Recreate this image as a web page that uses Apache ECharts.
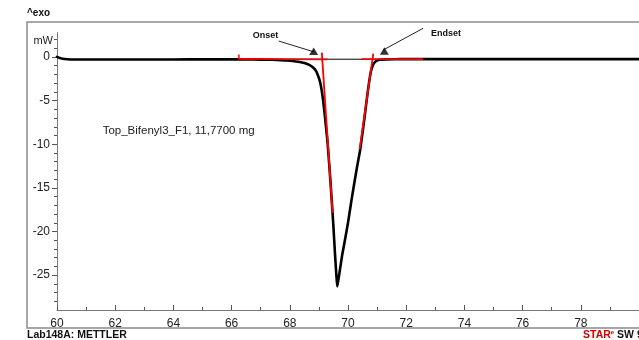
<!DOCTYPE html>
<html><head><meta charset="utf-8">
<script src="https://cdn.jsdelivr.net/npm/echarts@6/dist/echarts.min.js"></script>
<style>html,body{margin:0;padding:0;background:#fff}#c{width:639px;height:340px}</style>
</head><body><div id="c"></div>
<script>
// ---- data ----
const temperature = [60.0,60.05,60.1,60.2,60.35,60.6,61,62,63,64,65,66,66.5,67,67.4,67.7,67.9,68.1,68.3,68.5,68.65,68.8,68.9,69.0,69.05,69.1,69.15,69.2,69.25,69.3,69.35,69.4,69.45,69.5,69.55,69.6,69.63,69.66,69.7,69.8,69.9,70.0,70.13,70.3,70.42,70.55,70.64,70.72,70.79,70.86,70.93,71.0,71.1,71.3,71.6,72,73,74,75,76,77,78,79,80];
const heatFlow = [0.02,-0.05,-0.12,-0.2,-0.25,-0.28,-0.29,-0.29,-0.28,-0.28,-0.27,-0.27,-0.28,-0.3,-0.32,-0.36,-0.4,-0.46,-0.55,-0.68,-0.88,-1.2,-1.6,-2.4,-3.0,-3.9,-5.1,-6.6,-8.2,-9.9,-12.1,-14.4,-16.9,-19.5,-22.4,-25.0,-26.3,-25.7,-24.9,-22.7,-20.9,-19.0,-16.2,-12.8,-10.6,-7.4,-5.0,-3.0,-1.6,-0.9,-0.55,-0.4,-0.32,-0.27,-0.25,-0.24,-0.24,-0.24,-0.24,-0.24,-0.24,-0.24,-0.24,-0.24];
const yMajorTicks = [0,-5,-10,-15,-20,-25];
const yMinorTicks = [2,1,0,-1,-2,-3,-4,-5,-6,-7,-8,-9,-10,-11,-12,-13,-14,-15,-16,-17,-18,-19,-20,-21,-22,-23,-24,-25,-26,-27,-28];
const integrationBaseline = [[66.25,-0.25],[72.58,-0.25]];
const onsetBaseline = [[66.25,-0.22],[69.3,-0.27]];
const onsetTick = [[66.25,-0.25],[66.25,0.3]];
const onsetTangent = [[69.10,0.5],[69.47,-17.9]];
const endsetBaseline = [[70.46,-0.25],[72.58,-0.25]];
const endsetTangent = [[70.87,0.4],[70.40,-10.6]];
const onsetArrow = [[67.62,1.83],[68.85,0.57]];
const endsetArrow = [[72.58,3.29],[71.21,0.80]];
const arrowHeads = [[68.82,0.66],[71.25,0.69]];
const onsetLabelPos = [66.73,2.52];
const endsetLabelPos = [72.85,2.75];
const sampleLabelPos = [61.57,-8.5];
const sampleText = 'Top_Bifenyl3_F1, 11,7700 mg';

const chart = echarts.init(document.getElementById('c'), null, {renderer:'canvas'});
const font = "'Liberation Sans', Arial, sans-serif";
const lineS = (data, color, width, z) => ({type:'line', data, showSymbol:false, symbol:'none', clip:false, silent:true, z:z||3,
  lineStyle:{color, width}, animation:false});

const option = {
  backgroundColor:'#fff',
  animation:false,
  grid:{left:57, top:32.6, width:585, height:277.4},
  xAxis:{type:'value', min:60, max:80, interval:2,
    axisLine:{show:true, onZero:false, lineStyle:{color:'#777', width:1}},
    axisTick:{show:true, inside:true, length:5, lineStyle:{color:'#555'}},
    minorTick:{show:true, splitNumber:2, length:3, lineStyle:{color:'#555'}},
    splitLine:{show:false},
    axisLabel:{margin:8, fontSize:12, color:'#222', fontFamily:font, showMaxLabel:false}},
  yAxis:[{type:'value', min:-29, max:2.8, position:'left',
    axisLine:{show:true, onZero:false, lineStyle:{color:'#777', width:1}},
    axisTick:{show:true, length:5, customValues:yMajorTicks, lineStyle:{color:'#555'}},
    splitLine:{show:false},
    axisLabel:{margin:7, fontSize:12, color:'#222', fontFamily:font, customValues:yMajorTicks}},
   {type:'value', min:-29, max:2.8, position:'left', offset:0,
    axisLine:{show:false, onZero:false},
    axisTick:{show:true, length:3, customValues:yMinorTicks, lineStyle:{color:'#555'}},
    splitLine:{show:false}, axisLabel:{show:false}}],
  series:[
    lineS(integrationBaseline,'#000',1,2),
    Object.assign(lineS(temperature.map((t,i)=>[t,heatFlow[i]]),'#000',2.6,3),{smooth:0.15, lineStyle:{color:'#000',width:2.6,join:'round',cap:'round'}}),
    lineS(onsetBaseline,'#ff0000',1.8,4),
    lineS(onsetTick,'#ff0000',1.5,4),
    lineS(onsetTangent,'#ff0000',1.8,4),
    lineS(endsetBaseline,'#ff0000',1.8,4),
    lineS(endsetTangent,'#ff0000',1.8,4),
    lineS(onsetArrow,'#222',1,5),
    lineS(endsetArrow,'#222',1,5),
    {type:'scatter', data:arrowHeads, symbol:'triangle', symbolSize:[9,7.5], clip:false, silent:true, z:6,
      itemStyle:{color:'#000'}, animation:false}
  ]
};
chart.setOption(option);

const px = p => chart.convertToPixel({gridIndex:0}, p);
const op = px(onsetLabelPos), ep = px(endsetLabelPos), sp = px(sampleLabelPos);
chart.setOption({graphic:[
  {type:'rect', shape:{x:27, y:22, width:720, height:306}, style:{fill:'none', stroke:'#8a8a8a', lineWidth:1.5}, z:10},
  {type:'text', x:27, y:13, style:{text:'^exo', font:"bold 10px "+font, fill:'#111', textVerticalAlign:'middle'}, z:10},
  {type:'text', x:53, y:41, style:{text:'mW', font:"11px "+font, fill:'#222', textAlign:'right', textVerticalAlign:'middle'}, z:10},
  {type:'text', x:op[0], y:op[1], style:{text:'Onset', font:"bold 9px "+font, fill:'#111', textVerticalAlign:'middle'}, z:10},
  {type:'text', x:ep[0], y:ep[1], style:{text:'Endset', font:"bold 9px "+font, fill:'#111', textVerticalAlign:'middle'}, z:10},
  {type:'text', x:sp[0], y:sp[1], style:{text:sampleText, font:"11.5px "+font, fill:'#222', textVerticalAlign:'middle'}, z:10},
  {type:'text', x:27, y:335, style:{text:'Lab148A: METTLER', font:"bold 10.5px "+font, fill:'#111', textVerticalAlign:'middle'}, z:10},
  {type:'text', x:583, y:335, style:{text:'{r|STAR}{e|e} SW 9.30', font:"bold 10.5px "+font, fill:'#111', textVerticalAlign:'middle',
     rich:{r:{fill:'#d00000', font:"bold 10.5px "+font}, e:{fill:'#d00000', font:"bold 6px "+font, verticalAlign:'top', padding:[0,0,4,0]}}}, z:10}
]});
</script></body></html>
